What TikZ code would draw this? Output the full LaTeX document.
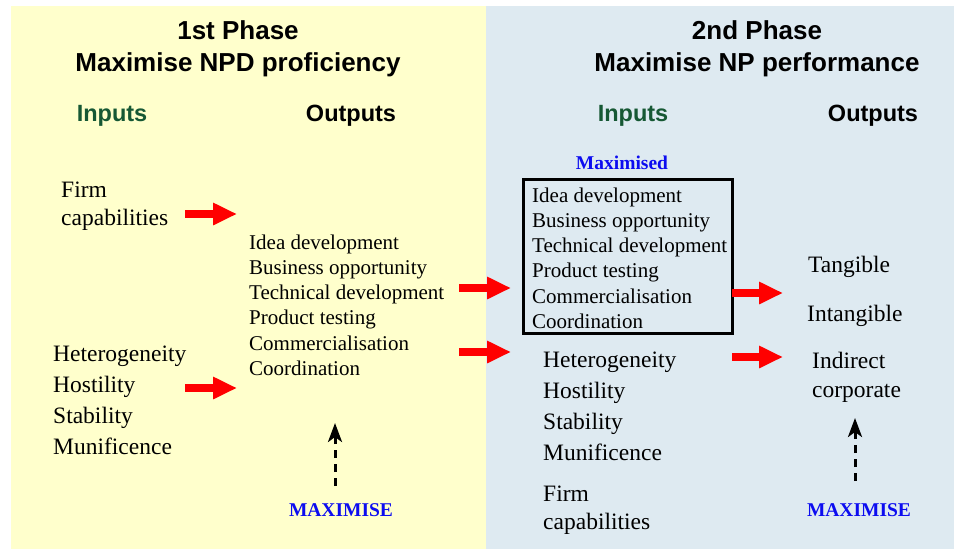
\documentclass[tikz,border=0pt]{standalone}
\usepackage{fontspec}
\setmainfont{Liberation Serif}
\newfontfamily\headfont{Liberation Sans}
\usepackage{tikz}
\usetikzlibrary{arrows.meta, positioning}
\definecolor{phaseone}{RGB}{255,255,204}
\definecolor{phasetwo}{RGB}{222,234,241}
\definecolor{inputgreen}{RGB}{22,88,52}
\definecolor{maxblue}{RGB}{12,12,240}
\definecolor{flowred}{RGB}{255,0,0}

\begin{document}
\begin{tikzpicture}[x=1pt, y=-1pt,
    title/.style={font=\headfont\bfseries\fontsize{26}{31}\selectfont, anchor=base, inner sep=0},
    colhead/.style={font=\headfont\bfseries\fontsize{23.5}{28}\selectfont, anchor=base, inner sep=0},
    bigitems/.style={font=\fontsize{23.5}{31}\selectfont, align=left, anchor=north west, inner sep=0},
    smallitems/.style={font=\fontsize{21}{25.2}\selectfont, align=left, anchor=north west, inner sep=0},
    maxtag/.style={font=\bfseries\fontsize{19.5}{23}\selectfont, text=maxblue, anchor=base, inner sep=0},
    redarrow/.style={flowred, line width=7.5pt, -{Triangle[length=24pt, width=21pt]}},
    dasharrow/.style={black, line width=3pt, dash pattern=on 8pt off 6pt,
        -{Stealth[length=19pt, width=14pt, inset=5pt]}}]

% panels
\useasboundingbox (0,0) rectangle (955,549);
\fill[white] (0,0) rectangle (955,549);
\fill[phaseone] (11,6) rectangle (486,549);
\fill[phasetwo] (486,6) rectangle (954,549);

% 1st phase headings
\node[title] (ph1) at (238,39) {1st Phase};
\node[title] (ph1sub) at (238,71) {Maximise NPD proficiency};
\node[colhead, text=inputgreen] (in1) at (112,121) {Inputs};
\node[colhead] (out1) at (351,121) {Outputs};

% 2nd phase headings
\node[title] (ph2) at (757,39) {2nd Phase};
\node[title] (ph2sub) at (757,71) {Maximise NP performance};
\node[colhead, text=inputgreen] (in2) at (633,121) {Inputs};
\node[colhead] (out2) at (873,121) {Outputs};

% 1st phase inputs and outputs
\node[bigitems, font=\fontsize{23.5}{28}\selectfont] (firm1) at (61,182) {Firm\\capabilities};
\node[bigitems] (env1) at (53,346) {Heterogeneity\\Hostility\\Stability\\Munificence};
\node[smallitems] (npd1) at (249,234.5) {Idea development\\Business opportunity\\Technical development\\Product testing\\Commercialisation\\Coordination};

% 2nd phase inputs
\node[maxtag] (maxd) at (622,169) {Maximised};
\node[smallitems] (npd2) at (532,187.5) {Idea development\\Business opportunity\\Technical development\\Product testing\\Commercialisation\\Coordination};
\draw[line width=3pt] (523,179) rectangle (732,333);
\node[bigitems] (env2) at (543,352) {Heterogeneity\\Hostility\\Stability\\Munificence};
\node[bigitems, font=\fontsize{23.5}{28}\selectfont] (firm2) at (543,486) {Firm\\capabilities};

% 2nd phase outputs
\node[bigitems] (tang) at (808,256) {Tangible};
\node[bigitems] (intang) at (807,305) {Intangible};
\node[bigitems, font=\fontsize{23.5}{29}\selectfont] (indir) at (812,352) {Indirect\\corporate};

% red flow arrows
\coordinate (a1s) at (185,214);  \coordinate (a1e) at (237,214);
\coordinate (a2s) at (185,388);  \coordinate (a2e) at (237,388);
\coordinate (a3s) at (459,288);  \coordinate (a3e) at (511,288);
\coordinate (a4s) at (459,352);  \coordinate (a4e) at (511,352);
\coordinate (a5s) at (732,293);  \coordinate (a5e) at (783,293);
\coordinate (a6s) at (732,357);  \coordinate (a6e) at (783,357);
\foreach \k in {1,...,6}
    \draw[redarrow] (a\k s) -- (a\k e);

% maximise markers
\node[maxtag] (maxL) at (341,516) {MAXIMISE};
\node[maxtag] (maxR) at (859,516) {MAXIMISE};
\coordinate (dL0) at (335,486); \coordinate (dL1) at (335,423);
\coordinate (dR0) at (855,481); \coordinate (dR1) at (855,418);
\draw[dasharrow] (dL0) -- (dL1);
\draw[dasharrow] (dR0) -- (dR1);

\end{tikzpicture}
\end{document}
